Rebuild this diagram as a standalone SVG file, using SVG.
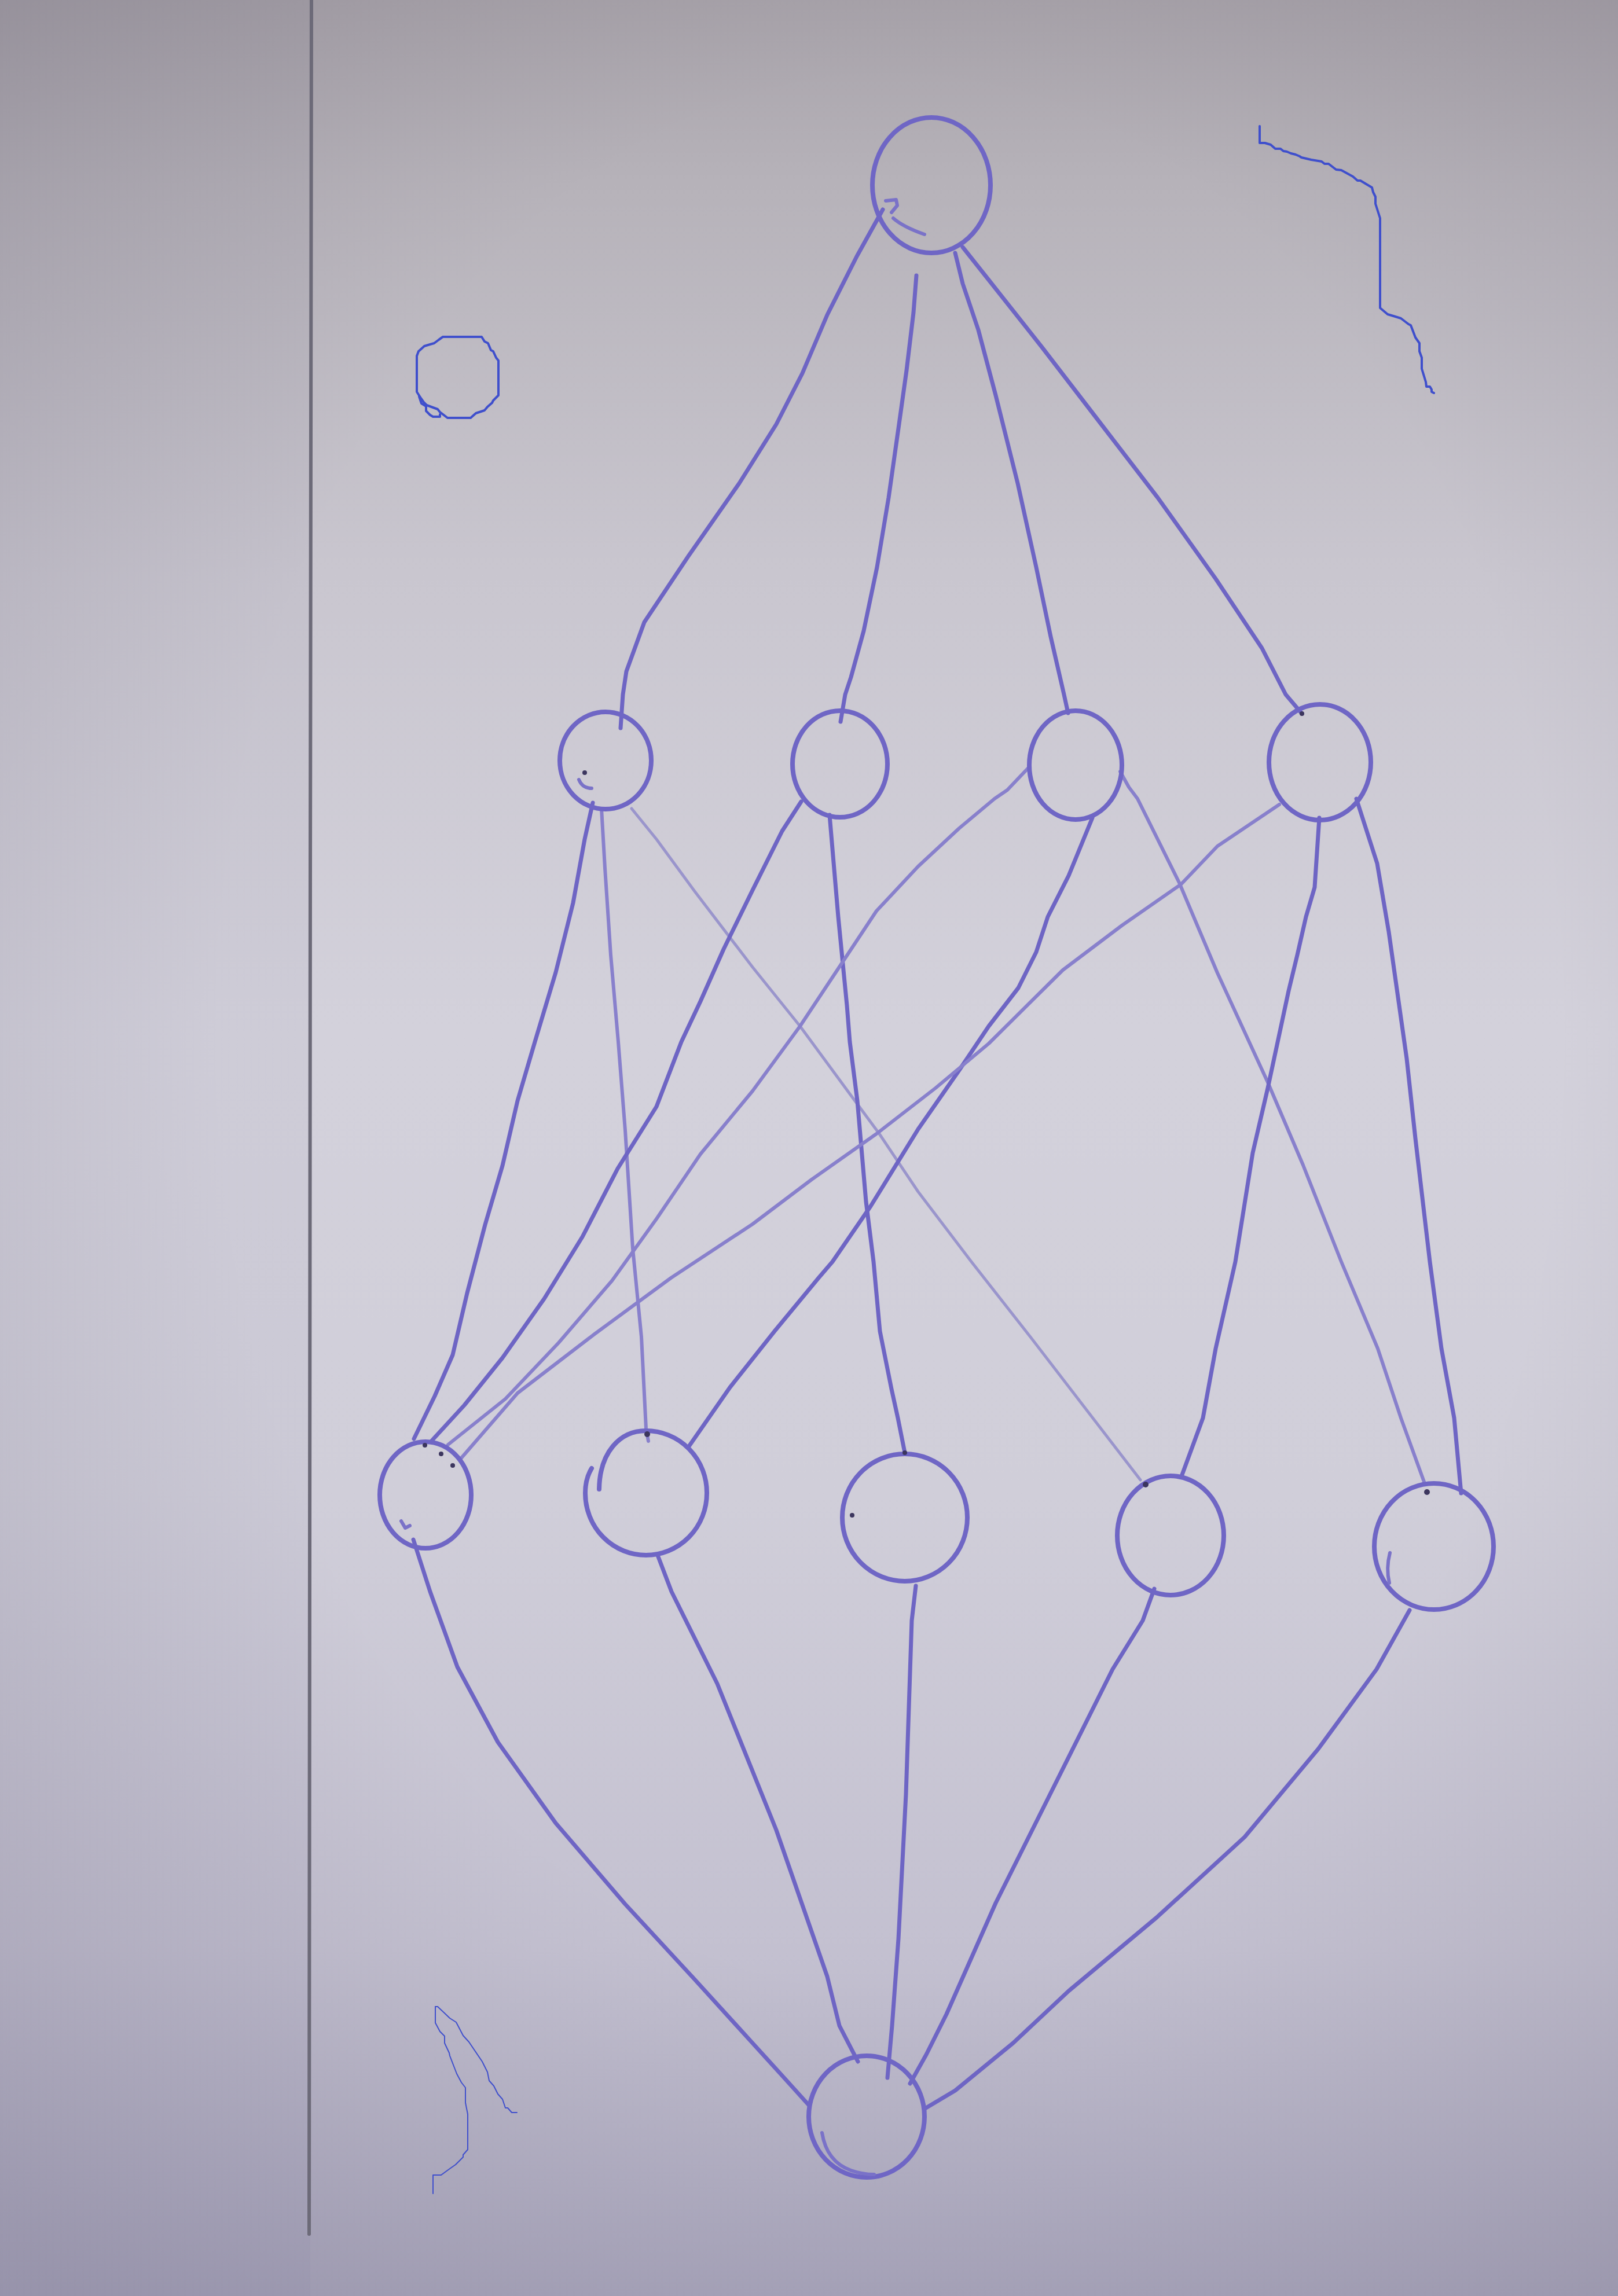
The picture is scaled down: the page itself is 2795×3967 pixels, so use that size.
<svg xmlns="http://www.w3.org/2000/svg" width="2795" height="3967" viewBox="0 0 2795 3967">
  <defs>
    <linearGradient id="paper" x1="0" y1="0" x2="0" y2="1">
      <stop offset="0" stop-color="#a7a2a9"/>
      <stop offset="0.08" stop-color="#b6b2b9"/>
      <stop offset="0.25" stop-color="#c9c6cf"/>
      <stop offset="0.45" stop-color="#d3d1db"/>
      <stop offset="0.65" stop-color="#d0ced9"/>
      <stop offset="0.85" stop-color="#c3c0d0"/>
      <stop offset="1" stop-color="#aaa7bd"/>
    </linearGradient>
    <radialGradient id="vignette" cx="0.55" cy="0.45" r="0.75">
      <stop offset="0.55" stop-color="#4a4258" stop-opacity="0"/>
      <stop offset="1" stop-color="#4a4258" stop-opacity="0.17"/>
    </radialGradient>
    <linearGradient id="strip" x1="0" y1="0" x2="0" y2="1">
      <stop offset="0" stop-color="#6e6c80" stop-opacity="0.06"/>
      <stop offset="0.5" stop-color="#6e6c90" stop-opacity="0.05"/>
      <stop offset="1" stop-color="#6e6c9a" stop-opacity="0.06"/>
    </linearGradient>
    <style>
      .node { fill: none; stroke: #6f66c5; stroke-width: 8; stroke-linecap: round; stroke-linejoin: round; }
      .tail { fill: none; stroke: #7a72c8; stroke-width: 6; stroke-linecap: round; stroke-linejoin: round; }
      .dot { fill: #3c365e; }
      .edge { fill: none; stroke: #6e65c4; stroke-width: 7; stroke-linecap: round; stroke-linejoin: round; }
      .edge.soft { stroke: #8880cc; stroke-width: 6; }
      .edge.faint { stroke: #9a95cc; stroke-width: 5; }
      .mark { fill: none; stroke: #3f4fcc; stroke-linecap: round; stroke-linejoin: round; }
    </style>
  </defs>

  <!-- paper -->
  <rect x="0" y="0" width="2795" height="3967" fill="url(#paper)"/>
  <rect x="0" y="0" width="2795" height="3967" fill="url(#vignette)"/>
  <rect x="0" y="0" width="536" height="3967" fill="url(#strip)"/>
  <path d="M538,0 L536,1500 L534,3860" fill="none" stroke="#6c6a78" stroke-width="6" stroke-linecap="round"/>

  <!-- blue marker strokes -->
  <g id="marks">
    <path class="mark" stroke-width="4" d="M765,582 L832,582 L837,590 L843,593 L848,605 L852,607 L857,618 L861,623 L861,683 L852,692 L850,696 L842,703 L837,709 L822,714 L813,722 L773,722 L760,712 L756,707 L737,700 L732,695 L727,688 L720,677 L720,615 L723,607 L733,598 L743,595 L750,593 L758,587 Z"/>
    <path class="mark" stroke-width="4" d="M724,685 L728,697 L736,702 L736,710 L743,717 L748,720 L760,720 L760,716"/>
    <path class="mark" stroke-width="4" d="M2176,218 L2176,247 L2185,247 L2195,250 L2203,257 L2212,257 L2217,261 L2223,262 L2230,265 L2238,267 L2245,270 L2248,272 L2265,276 L2283,279 L2288,283 L2295,283 L2308,293 L2317,294 L2337,305 L2345,312 L2350,312 L2370,324 L2372,332 L2376,340 L2376,352 L2384,377 L2384,532 L2397,543 L2407,546 L2420,550 L2433,560 L2437,562 L2445,583 L2452,593 L2452,607 L2456,618 L2456,637 L2463,660 L2464,668 L2470,668 L2473,673 L2473,677 L2477,679"/>
    <path class="mark" stroke-width="2" d="M752,3467 L756,3467 L777,3487 L788,3494 L800,3517 L810,3528 L833,3562 L842,3580 L845,3595 L853,3604 L860,3618 L868,3627 L873,3642 L877,3642 L884,3650 L893,3650"/>
    <path class="mark" stroke-width="2" d="M752,3467 L752,3495 L760,3510 L768,3518 L768,3530 L776,3547 L777,3552 L789,3583 L797,3598 L804,3607 L804,3633 L808,3653 L808,3714 L800,3723 L800,3727 L787,3740 L777,3747 L762,3758 L748,3758 L748,3790"/>
  </g>

  <!-- connectors -->
  <g id="edges">
    <!-- top to second row -->
    <path class="edge" d="M1525,362 L1480,443 L1429,544 L1386,645 L1341,733 L1277,835 L1189,961 L1113,1075 L1082,1160 L1076,1200 L1072,1258"/>
    <path class="edge" d="M1583,476 L1578,540 L1566,640 L1553,733 L1535,860 L1515,980 L1492,1090 L1470,1170 L1460,1200 L1452,1247"/>
    <path class="edge" d="M1650,437 L1663,490 L1690,570 L1720,683 L1758,835 L1790,980 L1815,1100 L1838,1200 L1845,1232"/>
    <path class="edge" d="M1663,427 L1713,490 L1800,600 L1900,730 L2000,860 L2100,1000 L2180,1120 L2221,1200 L2249,1233"/>

    <!-- second row to third row -->
    <path class="edge" d="M1024,1387 L1010,1450 L990,1560 L960,1680 L924,1800 L894,1902 L868,2014 L838,2116 L807,2234 L782,2341 L751,2412 L715,2486"/>
    <path class="edge soft" d="M1039,1397 L1045,1500 L1055,1650 L1068,1800 L1080,1953 L1093,2157 L1108,2310 L1116,2468 L1120,2490"/>
    <path class="edge faint" d="M1091,1397 L1134,1450 L1200,1540 L1300,1671 L1382,1773 L1468,1890 L1519,1959 L1586,2059 L1678,2180 L1780,2310 L1880,2440 L1970,2557"/>
    <path class="edge" d="M1384,1385 L1351,1436 L1300,1538 L1250,1640 L1210,1730 L1177,1800 L1134,1912 L1067,2019 L1006,2137 L940,2244 L868,2346 L802,2428 L746,2489"/>
    <path class="edge" d="M1433,1408 L1448,1584 L1463,1737 L1468,1800 L1481,1902 L1496,2076 L1509,2180 L1520,2300 L1540,2400 L1551,2450 L1563,2510"/>
    <path class="edge soft" d="M1778,1325 L1740,1365 L1718,1380 L1657,1431 L1586,1497 L1514,1574 L1453,1666 L1382,1773 L1300,1885 L1210,1994 L1134,2106 L1057,2213 L965,2320 L873,2417 L774,2496"/>
    <path class="edge" d="M1887,1413 L1846,1513 L1810,1584 L1790,1645 L1759,1707 L1708,1773 L1657,1849 L1586,1951 L1504,2084 L1438,2180 L1414,2208 L1338,2300 L1261,2397 L1190,2499"/>
    <path class="edge soft" d="M1935,1333 L1950,1360 L1965,1380 L2037,1525 L2103,1681 L2190,1870 L2251,2013 L2317,2180 L2380,2330 L2420,2450 L2461,2563"/>
    <path class="edge soft" d="M2210,1390 L2103,1462 L2040,1528 L1938,1599 L1836,1676 L1708,1803 L1616,1880 L1514,1959 L1402,2038 L1300,2115 L1159,2208 L1027,2305 L894,2407 L797,2519"/>
    <path class="edge" d="M2279,1413 L2271,1533 L2256,1584 L2241,1650 L2226,1712 L2190,1880 L2164,1992 L2134,2180 L2100,2330 L2078,2450 L2042,2548"/>
    <path class="edge" d="M2343,1380 L2379,1492 L2399,1610 L2430,1829 L2445,1967 L2470,2180 L2490,2330 L2512,2450 L2524,2580"/>

    <!-- third row to bottom -->
    <path class="edge" d="M714,2660 L743,2750 L790,2880 L860,3010 L960,3150 L1080,3290 L1200,3420 L1300,3530 L1350,3585 L1397,3637"/>
    <path class="edge" d="M1136,2687 L1160,2750 L1239,2909 L1341,3162 L1429,3415 L1450,3500 L1482,3562"/>
    <path class="edge" d="M1582,2740 L1575,2800 L1565,3100 L1552,3350 L1541,3500 L1533,3590"/>
    <path class="edge" d="M1994,2745 L1974,2800 L1922,2884 L1821,3086 L1720,3288 L1635,3480 L1600,3550 L1572,3600"/>
    <path class="edge" d="M2435,2782 L2378,2884 L2277,3022 L2150,3174 L1998,3313 L1846,3440 L1750,3530 L1650,3612 L1598,3643"/>
  </g>

  <!-- nodes -->
  <g id="n-top">
    <ellipse class="node" cx="1609" cy="320" rx="102" ry="117"/>
    <path class="tail" d="M1530,347 L1548,345 L1550,355 L1540,367"/>
    <path class="tail" stroke="#8d87cc" d="M1543,377 Q1560,392 1597,405"/>
  </g>

  <g id="n-r2-1">
    <ellipse class="node" cx="1046" cy="1314" rx="79" ry="84"/>
    <path class="tail" d="M1000,1347 Q1006,1362 1022,1362"/>
    <circle class="dot" cx="1010" cy="1335" r="4"/>
  </g>
  <g id="n-r2-2">
    <ellipse class="node" cx="1451" cy="1320" rx="82" ry="92"/>
  </g>
  <g id="n-r2-3">
    <ellipse class="node" cx="1858" cy="1322" rx="80" ry="94"/>
  </g>
  <g id="n-r2-4">
    <ellipse class="node" cx="2280" cy="1317" rx="88" ry="100"/>
    <circle class="dot" cx="2249" cy="1233" r="4"/>
  </g>

  <g id="n-r3-1">
    <ellipse class="node" cx="735" cy="2583" rx="79" ry="92"/>
    <path class="tail" d="M693,2628 L700,2640 L708,2636"/>
    <circle class="dot" cx="734" cy="2497" r="4"/>
    <circle class="dot" cx="762" cy="2512" r="4"/>
    <circle class="dot" cx="782" cy="2532" r="4"/>
  </g>
  <g id="n-r3-2">
    <path class="node" d="M1022,2537 Q1011,2555 1011,2580 A105,107 0 0 0 1221,2580 A105,107 0 0 0 1116,2472 C1070,2472 1036,2510 1035,2573"/>
    <circle class="dot" cx="1118" cy="2478" r="5"/>
  </g>
  <g id="n-r3-3">
    <ellipse class="node" cx="1563" cy="2622" rx="108" ry="110"/>
    <circle class="dot" cx="1472" cy="2618" r="4"/>
    <circle class="dot" cx="1563" cy="2510" r="4"/>
  </g>
  <g id="n-r3-4">
    <ellipse class="node" cx="2022" cy="2653" rx="92" ry="103"/>
    <circle class="dot" cx="1979" cy="2565" r="5"/>
  </g>
  <g id="n-r3-5">
    <ellipse class="node" cx="2477" cy="2672" rx="103" ry="109"/>
    <path class="tail" d="M2401,2683 Q2394,2710 2400,2735"/>
    <circle class="dot" cx="2465" cy="2578" r="5"/>
  </g>

  <g id="n-bottom">
    <ellipse class="node" cx="1497" cy="3657" rx="100" ry="105"/>
    <path class="tail" d="M1420,3685 Q1428,3735 1470,3750 Q1490,3757 1510,3757"/>
  </g>
</svg>
